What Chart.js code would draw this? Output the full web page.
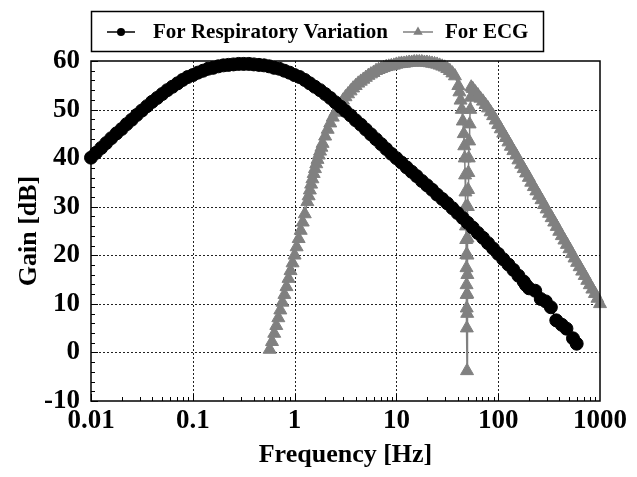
<!DOCTYPE html>
<html>
<head>
<meta charset="utf-8">
<script src="https://cdn.jsdelivr.net/npm/chart.js@4.4.1/dist/chart.umd.min.js"></script>
<style>
  html, body { margin: 0; padding: 0; background: #fff; }
  #wrap { width: 637px; height: 477px; }
</style>
</head>
<body>
<div id="wrap"><canvas id="bode" width="637" height="477"></canvas></div>
<script>
// ---- data ----
const xTickValues = [0.01, 0.1, 1, 10, 100, 1000];
const xTickLabels = ["0.01", "0.1", "1", "10", "100", "1000"];
const yTickValues = [-10, 0, 10, 20, 30, 40, 50, 60];

const respFreq = [
  0.01, 0.0112, 0.0126, 0.0141, 0.0158, 0.0178, 0.02, 0.0224, 0.0251, 0.0282,
  0.0316, 0.0355, 0.0398, 0.0447, 0.0501, 0.0562, 0.0631, 0.0708, 0.0794, 0.0891,
  0.1, 0.112, 0.126, 0.141, 0.158, 0.178, 0.2, 0.224, 0.251, 0.282,
  0.316, 0.355, 0.398, 0.447, 0.501, 0.562, 0.631, 0.708, 0.794, 0.891,
  1, 1.12, 1.26, 1.41, 1.58, 1.78, 2, 2.24, 2.51, 2.82,
  3.16, 3.55, 3.98, 4.47, 5.01, 5.62, 6.31, 7.08, 7.94, 8.91,
  10, 11.2, 12.6, 14.1, 15.8, 17.8, 20, 22.4, 25.1, 28.2,
  31.6, 35.5, 39.8, 44.7, 50.1, 56.2, 63.1, 70.8, 79.4, 89.1,
  100, 112, 126, 141, 158, 178,
  187, 201, 231, 262, 293, 329, 372, 421, 468, 543, 590
];
const respGain = [
  40.1, 41.1, 42.1, 43.1, 44.1, 45.1, 46.0, 47.0, 47.9, 48.9,
  49.8, 50.7, 51.6, 52.4, 53.2, 54.0, 54.7, 55.4, 56.1, 56.7,
  57.1, 57.6, 58.0, 58.4, 58.6, 58.9, 59.1, 59.2, 59.3, 59.4,
  59.4, 59.4, 59.3, 59.2, 59.1, 58.9, 58.6, 58.4, 58.0, 57.6,
  57.1, 56.7, 56.1, 55.4, 54.7, 54.0, 53.2, 52.4, 51.5, 50.6,
  49.7, 48.8, 47.8, 46.9, 45.9, 44.9, 43.9, 42.9, 41.9, 40.9,
  40.0, 39.1, 38.1, 37.2, 36.3, 35.3, 34.4, 33.5, 32.5, 31.6,
  30.7, 29.7, 28.7, 27.7, 26.7, 25.7, 24.6, 23.6, 22.5, 21.4,
  20.3, 19.2, 18.1, 17.0, 15.8, 14.6,
  13.9, 13.2, 12.7, 11.0, 10.5, 9.3, 6.6, 5.7, 4.9, 2.9, 1.8
];

// ECG band-pass with 50 Hz notch
const ecgFreq = [
  0.569, 0.6, 0.631, 0.661, 0.692, 0.724, 0.759, 0.794, 0.832, 0.871,
  0.912, 0.955, 1.0, 1.047, 1.096, 1.148, 1.202, 1.259, 1.334, 1.373,
  1.413, 1.454, 1.496, 1.540, 1.585, 1.632, 1.679, 1.728, 1.778, 1.833,
  1.884, 1.995, 2.113, 2.239, 2.371, 2.512, 2.661, 2.818, 2.985, 3.162,
  3.350, 3.548, 3.758, 3.981, 4.217, 4.467, 4.732, 5.012, 5.309, 5.623,
  5.957, 6.310, 6.683, 7.079, 7.499, 7.943, 8.414, 8.913, 9.441, 10,
  10.59, 11.22, 11.89, 12.59, 13.34, 14.13, 14.96, 15.85, 16.79, 17.78,
  18.84, 19.95, 21.13, 22.39, 23.71, 25.12, 26.61, 28.18, 29.85, 31.62,
  33.50, 35.48, 37.58,
  40.6, 41.6, 42.7, 43.9, 44.9, 45.9, 46.4, 46.9, 47.3, 47.7,
  48.0, 48.3, 48.5, 48.6, 48.8, 48.9, 49.0, 49.1, 49.2, 49.4,
  49.6, 49.7, 49.8, 49.9, 50.0, 50.2, 50.3, 50.6, 50.9, 51.4,
  51.8, 52.4, 53.1, 53.7, 54.3,
  56.2, 59.6, 63.1, 66.8, 70.8, 75.0, 79.4, 84.1, 89.1, 94.4,
  100, 106, 112, 119, 126, 133, 141, 150, 158, 168,
  178, 188, 200, 211, 224, 237, 251, 266, 282, 299,
  316, 335, 355, 376, 398, 422, 447, 473, 501, 531,
  562, 596, 631, 668, 708, 750, 794, 841, 891, 944, 1000
];
const ecgGain = [
  0.6, 2.2, 3.9, 5.5, 7.1, 8.7, 10.3, 11.9, 13.5, 15.2,
  16.8, 18.4, 20.0, 21.7, 23.4, 25.1, 26.8, 28.5, 31.0, 32.2,
  33.4, 34.6, 35.7, 36.8, 37.8, 38.8, 39.7, 40.6, 41.4, 42.2,
  43.0, 44.5, 45.9, 47.2, 48.4, 49.4, 50.3, 51.1, 51.9, 52.6,
  53.2, 53.8, 54.4, 54.9, 55.4, 55.8, 56.2, 56.6, 57.0, 57.3,
  57.6, 58.0, 58.2, 58.4, 58.6, 58.8, 58.9, 59.0, 59.1, 59.3,
  59.4, 59.5, 59.5, 59.6, 59.7, 59.7, 59.8, 59.8, 59.8, 59.8,
  59.7, 59.7, 59.6, 59.5, 59.4, 59.3, 59.1, 58.9, 58.7, 58.4,
  58.0, 57.5, 56.9,
  54.9, 53.6, 51.9, 50.0, 47.6, 45.0, 42.5, 40.0, 36.5, 33.0,
  30.0, 26.0, 23.2, 20.1, 17.4, 13.9, 11.9, 9.1, 5.0, -3.8,
  8.0, 12.0, 16.0, 20.0, 23.5, 27.0, 30.0, 33.5, 37.0, 40.0,
  43.5, 47.0, 50.0, 52.5, 54.6,
  54.3, 53.6, 53.0, 52.3, 51.7, 51.0, 50.3, 49.5, 48.7, 47.8,
  46.9, 46.0, 45.1, 44.2, 43.3, 42.4, 41.5, 40.6, 39.6, 38.7,
  37.8, 36.9, 36.0, 35.0, 34.1, 33.2, 32.3, 31.4, 30.4, 29.5,
  28.6, 27.7, 26.8, 25.9, 24.9, 24.0, 23.1, 22.2, 21.3, 20.3,
  19.4, 18.5, 17.6, 16.7, 15.8, 14.8, 13.9, 13.0, 12.1, 11.1, 10.0
];

const seriesNames = ["For Respiratory Variation", "For ECG"];
const RESP_COLOR = "#000000";
const ECG_COLOR = "#808080";
const FONT = '"Liberation Serif", "Times New Roman", serif';

function toPoints(xs, ys) {
  return xs.map((x, i) => ({ x, y: ys[i] }));
}

/* grid, inward ticks and frame */
const framePlugin = {
  id: "frame",
  beforeDatasetsDraw(chart) {
    const { ctx, chartArea: a, scales } = chart;
    const xs = scales.x, ys = scales.y;
    ctx.save();
    ctx.strokeStyle = "#222";
    ctx.lineWidth = 1;
    ctx.setLineDash([2, 2]);
    ctx.beginPath();
    xTickValues.slice(1, -1).forEach((v) => {
      const px = Math.round(xs.getPixelForValue(v)) + 0.5;
      ctx.moveTo(px, a.top);
      ctx.lineTo(px, a.bottom);
    });
    yTickValues.slice(1, -1).forEach((v) => {
      const py = Math.round(ys.getPixelForValue(v)) + 0.5;
      ctx.moveTo(a.left, py);
      ctx.lineTo(a.right, py);
    });
    ctx.stroke();
    ctx.setLineDash([]);

    // inward tick marks on the left and bottom axes
    ctx.strokeStyle = "#000";
    ctx.lineWidth = 1;
    ctx.beginPath();
    for (let v = -10; v <= 60; v += 2) {
      const py = Math.round(ys.getPixelForValue(v)) + 0.5;
      const len = v % 10 === 0 ? 7 : 4;
      ctx.moveTo(a.left, py);
      ctx.lineTo(a.left + len, py);
    }
    for (let d = 0.01; d < 1000; d *= 10) {
      for (let m = 1; m <= 9; m++) {
        const px = Math.round(xs.getPixelForValue(d * m)) + 0.5;
        const len = m === 1 ? 7 : 4;
        ctx.moveTo(px, a.bottom);
        ctx.lineTo(px, a.bottom - len);
      }
    }
    ctx.stroke();
    ctx.restore();
  },
  afterDatasetsDraw(chart) {
    const { ctx, chartArea: a } = chart;
    ctx.save();
    ctx.strokeStyle = "#000";
    ctx.lineWidth = 1.5;
    ctx.strokeRect(a.left, a.top, a.right - a.left, a.bottom - a.top);
    ctx.restore();
  },
};

/* boxed legend above the plot */
function drawMarker(ctx, style, x, y, r, color) {
  ctx.fillStyle = color;
  ctx.beginPath();
  if (style === "circle") {
    ctx.arc(x, y, r, 0, Math.PI * 2);
  } else {
    ctx.moveTo(x, y - r);
    ctx.lineTo(x + r * 0.866, y + r * 0.5);
    ctx.lineTo(x - r * 0.866, y + r * 0.5);
    ctx.closePath();
  }
  ctx.fill();
}

const legendPlugin = {
  id: "boxLegend",
  afterDraw(chart) {
    const ctx = chart.ctx;
    ctx.save();
    ctx.strokeStyle = "#000";
    ctx.lineWidth = 1.5;
    ctx.strokeRect(91.5, 11.5, 452, 40);

    const items = [
      { x0: 107, x1: 135, tx: 153, color: RESP_COLOR, style: "circle", r: 4 },
      { x0: 403, x1: 433, tx: 445, color: ECG_COLOR, style: "triangle", r: 5.5 },
    ];
    const yMid = 32;
    ctx.font = "bold 21px " + FONT;
    ctx.textBaseline = "middle";
    items.forEach((it, i) => {
      ctx.strokeStyle = it.color;
      ctx.lineWidth = 1.5;
      ctx.beginPath();
      ctx.moveTo(it.x0, yMid);
      ctx.lineTo(it.x1, yMid);
      ctx.stroke();
      drawMarker(ctx, it.style, (it.x0 + it.x1) / 2, yMid, it.r, it.color);
      ctx.fillStyle = "#000";
      ctx.fillText(seriesNames[i], it.tx, yMid + 1);
    });
    ctx.restore();
  },
};

new Chart(document.getElementById("bode"), {
  type: "scatter",
  data: {
    datasets: [
      {
        label: seriesNames[0],
        data: toPoints(respFreq, respGain),
        showLine: true,
        borderColor: RESP_COLOR,
        backgroundColor: RESP_COLOR,
        borderWidth: 1.5,
        pointStyle: "circle",
        pointRadius: 6.5,
        pointBorderWidth: 1,
        clip: false,
      },
      {
        label: seriesNames[1],
        data: toPoints(ecgFreq, ecgGain),
        showLine: true,
        borderColor: ECG_COLOR,
        backgroundColor: ECG_COLOR,
        borderWidth: 1.5,
        pointStyle: "triangle",
        pointRadius: 7.5,
        pointBorderWidth: 1,
        clip: false,
      },
    ],
  },
  options: {
    responsive: false,
    animation: false,
    events: [],
    layout: { padding: { top: 61, right: 37, left: 0, bottom: 0 } },
    plugins: { legend: { display: false }, tooltip: { enabled: false } },
    scales: {
      x: {
        type: "logarithmic",
        min: 0.01,
        max: 1000,
        afterBuildTicks: (s) => { s.ticks = xTickValues.map((v) => ({ value: v })); },
        afterFit: (s) => { s.height = 76; },
        grid: { display: false, drawTicks: false },
        border: { display: false },
        ticks: {
          autoSkip: false,
          maxRotation: 0,
          padding: 4,
          color: "#000",
          font: { family: FONT, size: 27, weight: "bold" },
          callback: (v) => xTickLabels[xTickValues.indexOf(v)],
        },
        title: {
          display: true,
          text: "Frequency [Hz]",
          color: "#000",
          font: { family: FONT, size: 26, weight: "bold" },
          padding: { top: 0, bottom: 6 },
        },
      },
      y: {
        min: -10,
        max: 60,
        afterBuildTicks: (s) => { s.ticks = yTickValues.map((v) => ({ value: v })); },
        afterFit: (s) => { s.width = 91; },
        grid: { display: false, drawTicks: false },
        border: { display: false },
        ticks: {
          padding: 11,
          color: "#000",
          font: { family: FONT, size: 27, weight: "bold" },
        },
        title: {
          display: true,
          text: "Gain [dB]",
          color: "#000",
          font: { family: FONT, size: 26, weight: "bold" },
          padding: { top: 14, bottom: 0 },
        },
      },
    },
  },
  plugins: [framePlugin, legendPlugin],
});
</script>
</body>
</html>
